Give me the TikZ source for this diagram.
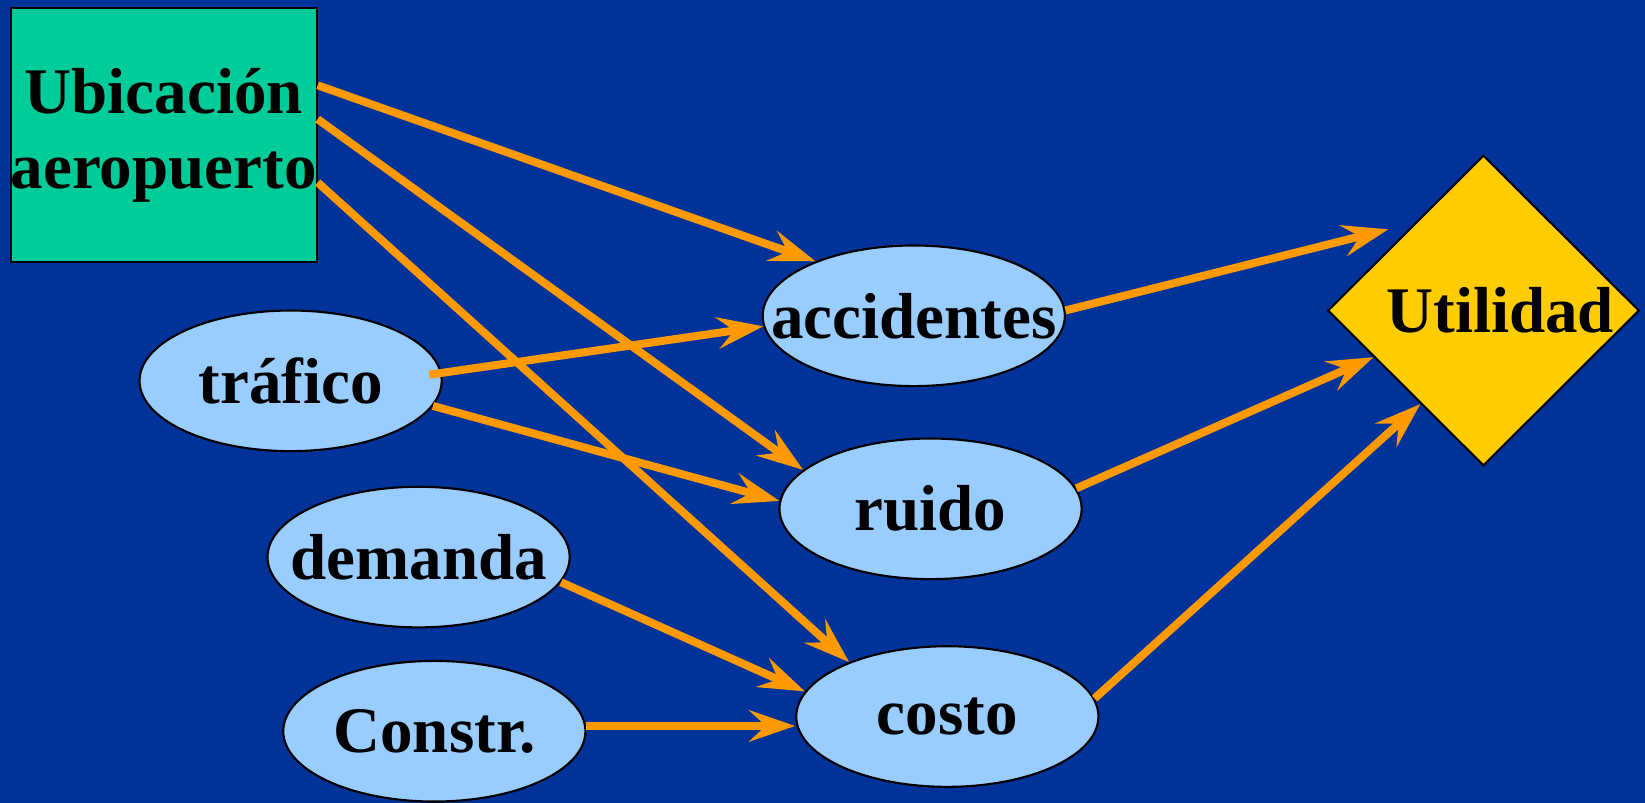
\documentclass[tikz,border=0pt]{standalone}
\usepackage{fontspec}
\setmainfont{Liberation Serif}
\usepackage{xcolor}
\usetikzlibrary{shapes.geometric, arrows.meta, calc}

\definecolor{fondo}{RGB}{0,51,153}
\definecolor{verde}{RGB}{0,204,153}
\definecolor{celeste}{RGB}{153,204,255}
\definecolor{amarillo}{RGB}{255,204,0}
\definecolor{naranja}{RGB}{255,153,0}
\newcommand{\etq}[1]{\makebox[0pt]{#1}}

\begin{document}
\begin{tikzpicture}[x=0.5pt, y=-0.5pt,
    every node/.style={font=\bfseries\fontsize{31}{36}\selectfont},
    decision/.style={draw, line width=1pt, rectangle, fill=verde, inner sep=0pt, minimum width=144pt, minimum height=121pt, align=center},
    azar/.style={draw, line width=1pt, ellipse, fill=celeste, inner sep=0pt, minimum width=144pt, minimum height=67pt},
    valor/.style={draw, line width=1pt, diamond, fill=amarillo, inner sep=0pt, minimum width=148.5pt, minimum height=148pt},
    flecha/.style={-{Stealth[length=22pt, width=15pt, inset=8pt]}, line width=3.8pt, naranja}]
    % fondo
    \fill[fondo] (0,0) rectangle (1568,765);

    \node[decision] (ubic) at (156,129) {Ubicación\\aeropuerto};

    \node[azar] (trafico) at (277,363) {\etq{tráfico}};
    \node[azar] (demanda) at (399,531) {\etq{demanda}};
    \node[azar] (constr) at (414,697) {\etq{Constr.}};

    \node[azar] (acc) at (871,301) {\etq{accidentes}};
    \node[azar] (ruido) at (887,485) {\etq{ruido}};
    \node[azar] (costo) at (903,683) {\etq{costo}};

    \node[valor] (util) at (1414,296) {\etq{\hspace{16pt}Utilidad}};

    \draw[flecha] (ubic.18) -- (acc.151);
    \draw[flecha] (ubic.6) -- (ruido.163);
    \draw[flecha] (ubic.-17) -- (costo.151);
    \draw[flecha, shorten <=-6pt] (trafico.3) -- (acc.184);
    \draw[flecha] (trafico.-10) -- (ruido.177);
    \draw[flecha] (demanda.-10) -- (costo.170);
    \draw[flecha] (constr.2) -- (constr.2 -| costo.west);
    \draw[flecha, shorten >=13pt] (acc.2) -- (util.128);
    \draw[flecha] (ruido.8) -- (util.203);
    \draw[flecha] (costo.7) -- (util.236);
\end{tikzpicture}
\end{document}
